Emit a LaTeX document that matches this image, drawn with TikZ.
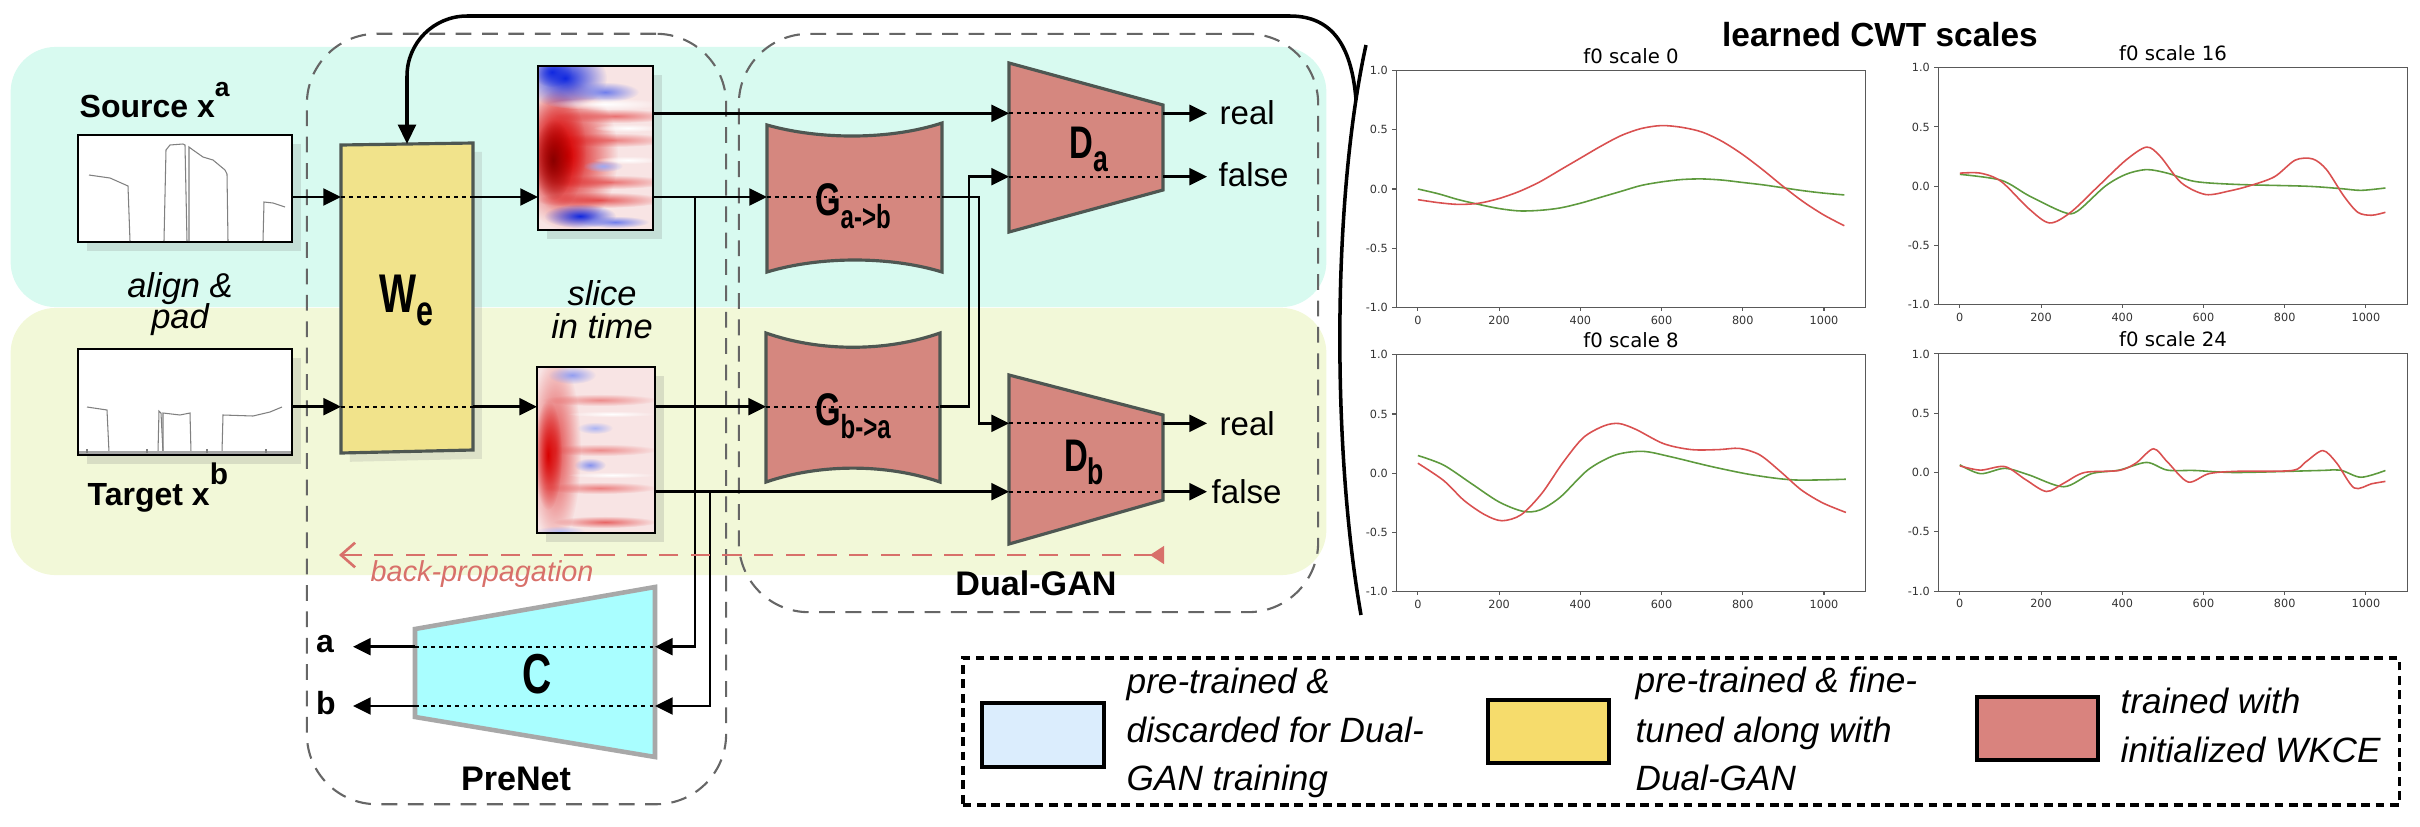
\documentclass[tikz,border=0pt]{standalone}
\usepackage{fontspec}
\setmainfont{Liberation Sans}
\newfontfamily\blockfont[FakeStretch=0.72]{Liberation Sans}
\newfontfamily\plotfont{DejaVu Sans}
\usetikzlibrary{arrows.meta,shadows,fadings}

\definecolor{bandcyan}{HTML}{D8FAF0}
\definecolor{bandyellow}{HTML}{F2F8D8}
\definecolor{weyellow}{HTML}{F1E38B}
\definecolor{ganred}{HTML}{D5877F}
\definecolor{edgegray}{HTML}{4E5752}
\definecolor{cfill}{HTML}{A9FEFF}
\definecolor{cedge}{HTML}{A8A8A8}
\definecolor{legblue}{HTML}{DBEDFD}
\definecolor{legyellow}{HTML}{F6DC6C}
\definecolor{legred}{HTML}{D9837E}
\definecolor{bpred}{HTML}{D8706A}
\definecolor{specpink}{HTML}{F8E4E4}
\definecolor{specred}{HTML}{D80000}
\definecolor{specdark}{HTML}{8A0000}
\definecolor{specblue}{HTML}{1028E0}
\definecolor{plotred}{HTML}{D95050}
\definecolor{plotgreen}{HTML}{5E9A3E}

\tikzfading[name=blobfade, inner color=transparent!0, outer color=transparent!100]

% soft blob of a scalogram
\newcommand{\specblob}[4]{\fill[#1,path fading=blobfade] #2 ellipse [x radius=#3, y radius=#4];}

% one panel of learned scales: name, origin x, origin y, title, red, green
\newcommand{\fzpanel}[6]{%
  \begin{scope}[shift={(#2,#3)},x=0.004064cm,y=1.185cm]
    \draw[axisline] (-53,-1) rectangle (1103,1);
    \foreach \tk in {0,200,...,1000}{
      \draw[axisline] (\tk,-1) -- (\tk,-1.03);
      \node[ticklab,anchor=north] (#1-x\tk) at (\tk,-1.05) {\tk};}
    \foreach \yv/\yl [count=\yi] in {1/1.0,0.5/0.5,0/0.0,-0.5/-0.5,-1/-1.0}{
      \draw[axisline] (-53,\yv) -- (-63,\yv);
      \node[ticklab,anchor=east] (#1-y\yi) at (-68,\yv) {\yl};}
    \node[plottitle,anchor=base] (#1-title) at (525,1.06) {#4};
    \draw[greencurve] plot[smooth] coordinates {#6};
    \draw[redcurve] plot[smooth] coordinates {#5};
  \end{scope}}

\begin{document}
\begin{tikzpicture}[x=0.01cm,y=-0.01cm,
  arr/.style={line width=0.7pt,-{Triangle[length=5pt,width=4.8pt]}},
  wire/.style={line width=0.7pt},
  loopline/.style={line width=1pt},
  port/.style={line width=0.5pt,dash pattern=on 1pt off 1.3pt},
  band/.style={inner sep=0pt,outer sep=0pt,rounded corners=0.45cm},
  grpbox/.style={draw=black!60,line width=0.6pt,dash pattern=on 4.5pt off 3pt,rounded corners=0.7cm,inner sep=0pt},
  inbox/.style={draw=black,fill=white,line width=0.6pt,inner sep=0pt,outer sep=0pt,
    drop shadow={shadow xshift=2.5pt,shadow yshift=-2.5pt,opacity=0.22}},
  specbox/.style={inbox,fill=specpink},
  weshape/.style={fill=weyellow,draw=edgegray,line width=0.9pt,
    drop shadow={shadow xshift=2.5pt,shadow yshift=-2.5pt,opacity=0.18}},
  ganshape/.style={fill=ganred,draw=edgegray,line width=0.9pt},
  cshape/.style={fill=cfill,draw=cedge,line width=1.3pt},
  contour/.style={draw=black!50,line width=0.3pt},
  lbl/.style={font=\bfseries\fontsize{9.1}{10}\selectfont,inner sep=0pt},
  note/.style={font=\itshape\fontsize{9.8}{10}\selectfont,inner sep=0pt,anchor=base},
  outlbl/.style={font=\fontsize{9.4}{10}\selectfont,inner sep=0pt,anchor=base west},
  blk/.style={font=\blockfont\bfseries,inner sep=0pt,anchor=base},
  grplbl/.style={font=\bfseries\fontsize{9.7}{10}\selectfont,inner sep=0pt,anchor=base},
  bparrow/.style={draw=bpred,line width=0.75pt,dash pattern=on 5.5pt off 3.5pt,
    {Triangle[reversed,length=4pt,width=5pt]}-{Straight Barb[length=4pt,width=7pt]}},
  bptext/.style={font=\itshape\fontsize{8.2}{9}\selectfont,text=bpred,inner sep=0pt,anchor=base west},
  legframe/.style={draw=black,line width=1.1pt,dash pattern=on 2.5pt off 1.6pt,inner sep=0pt},
  legbox/.style={draw=black,line width=1.1pt,inner sep=0pt,minimum width=1.21cm,minimum height=0.63cm},
  legtxt/.style={font=\itshape\fontsize{10}{12}\selectfont,inner sep=0pt,anchor=base west},
  axisline/.style={draw=black!65,line width=0.3pt},
  ticklab/.style={font=\plotfont\fontsize{3.2}{3.6}\selectfont,inner sep=0.5pt,text=black!80},
  plottitle/.style={font=\plotfont\fontsize{5.6}{6}\selectfont,inner sep=0pt},
  redcurve/.style={draw=plotred,line width=0.45pt},
  greencurve/.style={draw=plotgreen,line width=0.45pt}]
\useasboundingbox (0,0) rectangle (2420,827);

% domain bands
\node[band,fill=bandcyan,minimum width=13.15cm,minimum height=2.6cm] (band-a) at (668.5,177) {};
\node[band,fill=bandyellow,minimum width=13.15cm,minimum height=2.67cm] (band-b) at (668.5,441.5) {};

% groups
\node[grpbox,minimum width=4.19cm,minimum height=7.7cm] (prenet) at (516.5,419) {};
\node[grpbox,minimum width=5.79cm,minimum height=5.78cm] (dualgan) at (1028.5,323) {};
\node[grplbl] (prenet-lbl) at (516,790) {PreNet};
\node[grplbl] (dualgan-lbl) at (1036,595) {Dual-GAN};

% inputs
\node[lbl,anchor=base west] (src-lbl) at (79,117) {Source x\raisebox{5.7pt}{\fontsize{7.5}{8}\selectfont a}};
\node[inbox,minimum width=2.14cm,minimum height=1.07cm] (src) at (185,188.5) {};
\draw[contour] (89,175) -- (110,178) -- (128,186) -- (130,241);
\draw[contour] (164,241) -- (166,150) -- (170,145) -- (183,144) -- (185,145) -- (187,241);
\draw[contour] (189,241) -- (189,147) -- (193,150) -- (203,157) -- (213,160) -- (225,170) -- (227,174) -- (228,241);
\draw[contour] (263,241) -- (264,202) -- (273,203) -- (285,207);

\node[note] (align-lbl) at (180,297) {align \&};
\node[note] (pad-lbl) at (180,328) {pad};

\node[inbox,minimum width=2.14cm,minimum height=1.06cm] (tgt) at (185,402) {};
\draw[contour] (87,407) -- (107,410) -- (109,452);
\draw[contour] (158,452) -- (159,411) -- (161,413) -- (163,452);
\draw[contour] (163,452) -- (163,413) -- (180,415) -- (190,413) -- (191,452);
\draw[contour] (222,452) -- (223,415) -- (253,416) -- (270,412) -- (282,407);
\draw[black!35,line width=1pt] (79,452.5) -- (291,452.5);
\foreach \tx in {87,147,207,266} \draw[black!50,line width=0.4pt] (\tx,452.5) -- (\tx,449);
\node[lbl,anchor=base west] (tgt-lbl) at (87,505) {Target x\raisebox{5.7pt}{\fontsize{8.5}{9}\selectfont b}};

% encoder
\draw[weshape] (341,145) -- (473,143) -- (473,450) -- (341,453) -- cycle;
\coordinate (we-ia) at (341,197);
\coordinate (we-ib) at (341,406.7);
\coordinate (we-oa) at (473,197);
\coordinate (we-ob) at (473,406.7);
\coordinate (we-top) at (407,144);
\draw[port] (we-ia) -- (we-oa);
\draw[port] (we-ib) -- (we-ob);
\node[blk] (we-lbl) at (406,312) {\fontsize{15.5}{16}\selectfont W\raisebox{-3.7pt}{\fontsize{12}{12}\selectfont e}};

% scalograms
\node[specbox,minimum width=1.15cm,minimum height=1.64cm] (spa) at (595.5,148) {};
\begin{scope}
  \clip (538,66) rectangle (653,230);
  \specblob{specred!55}{(615,116)}{60}{7}
  \specblob{specred!50}{(612,140)}{60}{7}
  \specblob{specred!55}{(610,182)}{60}{7}
  \specblob{specred!65}{(600,200)}{65}{8}
  \specblob{specred}{(566,155)}{52}{75}
  \specblob{specred}{(556,150)}{30}{60}
  \specblob{specdark}{(553,160)}{20}{40}
  \specblob{specblue}{(565,78)}{42}{30}
  \specblob{specblue}{(552,72)}{20}{15}
  \specblob{specblue!60}{(605,92)}{34}{10}
  \specblob{white}{(605,104)}{58}{6}
  \specblob{white}{(628,128)}{35}{4}
  \specblob{white}{(628,160)}{35}{4}
  \specblob{specblue!40}{(603,166)}{20}{6}
  \specblob{specblue}{(580,216)}{36}{12}
  \specblob{specblue!60}{(615,222)}{34}{6}
\end{scope}
\draw[line width=0.6pt] (spa.south west) rectangle (spa.north east);

\node[specbox,minimum width=1.18cm,minimum height=1.66cm] (spb) at (596,450) {};
\begin{scope}
  \clip (537,367) rectangle (655,533);
  \specblob{specred!45}{(600,400)}{58}{6}
  \specblob{specred!45}{(600,450)}{58}{6}
  \specblob{specred!50}{(600,488)}{58}{6}
  \specblob{specred!60}{(605,522)}{52}{6}
  \specblob{specred!75}{(555,450)}{26}{95}
  \specblob{specred}{(548,455)}{14}{55}
  \specblob{specblue!45}{(572,375)}{24}{9}
  \specblob{specblue!35}{(595,428)}{18}{6}
  \specblob{specblue!50}{(590,465)}{16}{7}
  \specblob{specblue!30}{(560,531)}{25}{5}
  \specblob{white}{(612,414)}{45}{3}
  \specblob{white}{(612,475)}{45}{3}
\end{scope}
\draw[line width=0.6pt] (spb.south west) rectangle (spb.north east);

\node[note] (slice-lbl) at (602,305) {slice};
\node[note] (time-lbl) at (602,338) {in time};

% generators
\draw[ganshape] (767,125) .. controls (820,140) and (890,140) .. (942,123) -- (942,272)
  .. controls (890,256) and (820,256) .. (767,272) -- cycle;
\draw[ganshape] (766,333) .. controls (820,352) and (886,352) .. (940,333) -- (940,482)
  .. controls (886,463.5) and (820,463.5) .. (766,482) -- cycle;
\coordinate (gab-in) at (767,197);
\coordinate (gab-out) at (942,197);
\coordinate (gba-in) at (766,406.7);
\coordinate (gba-out) at (940,406.7);
\draw[port] (gab-in) -- (gab-out);
\draw[port] (gba-in) -- (gba-out);
\node[blk] (gab-lbl) at (853,215) {\fontsize{13}{13}\selectfont G\raisebox{-3.7pt}{\fontsize{9.5}{10}\selectfont a->b}};
\node[blk] (gba-lbl) at (853,425) {\fontsize{13}{13}\selectfont G\raisebox{-3.7pt}{\fontsize{9.5}{10}\selectfont b->a}};

% discriminators
\draw[ganshape] (1009,63) -- (1163,105) -- (1163,190) -- (1009,232) -- cycle;
\draw[ganshape] (1009,375) -- (1163,415) -- (1163,500) -- (1009,544) -- cycle;
\coordinate (da-r) at (1009,113.3);
\coordinate (da-f) at (1009,176.7);
\coordinate (da-or) at (1163,113.3);
\coordinate (da-of) at (1163,176.7);
\coordinate (db-r) at (1009,423.3);
\coordinate (db-f) at (1009,491.7);
\coordinate (db-or) at (1163,423.3);
\coordinate (db-of) at (1163,491.7);
\draw[port] (da-r) -- (da-or);
\draw[port] (da-f) -- (da-of);
\draw[port] (db-r) -- (db-or);
\draw[port] (db-f) -- (db-of);
\node[blk] (da-lbl) at (1089,158) {\fontsize{13}{13}\selectfont D\raisebox{-3.8pt}{\fontsize{10.5}{11}\selectfont a}};
\node[blk] (db-lbl) at (1084,471.7) {\fontsize{13}{13}\selectfont D\raisebox{-3.5pt}{\fontsize{10.5}{11}\selectfont b}};
\node[outlbl] (da-real) at (1219,124) {real};
\node[outlbl] (da-false) at (1218,186.7) {false};
\node[outlbl] (db-real) at (1219,435) {real};
\node[outlbl] (db-false) at (1211,503) {false};

% classifier
\draw[cshape] (415,629) -- (655,587) -- (655,757) -- (415,717) -- cycle;
\coordinate (c-a) at (655,646.7);
\coordinate (c-b) at (655,706);
\coordinate (c-oa) at (415,646.7);
\coordinate (c-ob) at (415,706);
\draw[port] (c-oa) -- (c-a);
\draw[port] (c-ob) -- (c-b);
\node[blk] (c-lbl) at (537,693) {\fontsize{16}{16}\selectfont C};
\node[lbl,anchor=base] (out-a) at (325,652.7) {a};
\node[lbl,anchor=base] (out-b) at (326,714) {b};

% connections
\coordinate (tap-a) at (695,197);
\coordinate (tap-b) at (710,491.7);
\draw[arr] (src.east |- we-ia) -- (we-ia);
\draw[arr] (tgt.east |- we-ib) -- (we-ib);
\draw[arr] (we-oa) -- (spa.west |- we-oa);
\draw[arr] (we-ob) -- (spb.west |- we-ob);
\draw[arr] (spa.east |- da-r) -- (da-r);
\draw[arr] (spa.east |- gab-in) -- (gab-in);
\draw[arr] (tap-a) |- (c-a);
\draw[arr] (spb.east |- gba-in) -- (gba-in);
\draw[arr] (spb.east |- db-f) -- (db-f);
\draw[arr] (tap-b) |- (c-b);
\draw[arr] (gab-out) -- ++(37,0) |- (db-r);
\draw[arr] (gba-out) -- ++(29,0) |- (da-f);
\draw[arr] (da-or) -- ++(44,0);
\draw[arr] (da-of) -- ++(44,0);
\draw[arr] (db-or) -- ++(44,0);
\draw[arr] (db-of) -- ++(44,0);
\draw[arr] (c-oa) -- ++(-62,0);
\draw[arr] (c-ob) -- ++(-62,0);

% weights fed back from the learned scales
\draw[loopline,rounded corners=0.6cm,-{Triangle[length=5.5pt,width=5pt]}] (1290,16) -- (we-top |- 0,16) -- (we-top);
\draw[loopline] (1290,16) .. controls (1335,16) and (1352,50) .. (1356,100);
\draw[loopline] (1366,45) .. controls (1332,200) and (1332,450) .. (1361,615);

% back-propagation
\coordinate (bp-s) at (1164,555);
\coordinate (bp-e) at (339,555);
\draw[bparrow] (bp-s) -- (bp-e);
\node[bptext] (bp-lbl) at (370,581.7) {back-propagation};

% learned scales
\node[font=\bfseries\fontsize{9.5}{10}\selectfont,inner sep=0pt,anchor=base] (cwt-lbl) at (1880,46.7) {learned CWT scales};
\fzpanel{pa}{1417.9}{189}{f0 scale 0}
  {(0,-0.09) (50,-0.115) (100,-0.13) (150,-0.12) (200,-0.08) (250,-0.02) (300,0.06) (350,0.16) (400,0.26) (450,0.36) (500,0.45) (550,0.51) (600,0.535) (650,0.52) (700,0.48) (750,0.40) (800,0.29) (850,0.16) (900,0.02) (950,-0.11) (1000,-0.22) (1050,-0.31)}
  {(0,0) (50,-0.04) (100,-0.09) (150,-0.13) (200,-0.165) (250,-0.185) (300,-0.18) (350,-0.16) (400,-0.12) (450,-0.07) (500,-0.02) (550,0.03) (600,0.06) (650,0.08) (700,0.085) (750,0.075) (800,0.055) (850,0.035) (900,0.01) (950,-0.015) (1000,-0.035) (1050,-0.05)}
\fzpanel{pb}{1959.8}{186.2}{f0 scale 16}
  {(0,0.11) (51,0.11) (102,0.04) (170,-0.19) (221,-0.31) (273,-0.22) (341,0) (409,0.22) (460,0.33) (494,0.25) (545,0.03) (605,-0.07) (664,-0.04) (715,0.005) (775,0.08) (826,0.22) (869,0.23) (903,0.14) (945,-0.08) (980,-0.22) (1014,-0.245) (1048,-0.22)}
  {(0,0.1) (102,0.05) (170,-0.08) (256,-0.22) (290,-0.21) (358,0) (409,0.1) (460,0.14) (511,0.11) (579,0.04) (682,0.015) (852,0) (937,-0.02) (988,-0.035) (1048,-0.015)}
\fzpanel{pc}{1417.9}{473.3}{f0 scale 8}
  {(0,0.085) (63,-0.06) (114,-0.23) (165,-0.35) (207,-0.40) (254,-0.35) (305,-0.17) (356,0.085) (407,0.30) (458,0.40) (495,0.42) (537,0.37) (605,0.25) (673,0.20) (741,0.20) (792,0.21) (842,0.155) (893,0.014) (944,-0.14) (997,-0.25) (1054,-0.33)}
  {(0,0.15) (63,0.07) (131,-0.085) (199,-0.24) (258,-0.32) (300,-0.31) (351,-0.2) (419,0.03) (487,0.155) (554,0.185) (622,0.14) (724,0.056) (825,-0.014) (927,-0.056) (1054,-0.05)}
\fzpanel{pd}{1959.8}{472.5}{f0 scale 24}
  {(0,0.056) (51,0.02) (111,0.05) (162,-0.06) (213,-0.16) (256,-0.09) (307,0) (392,0.017) (434,0.08) (477,0.2) (511,0.09) (562,-0.08) (613,-0.01) (681,0.01) (818,0.017) (852,0.09) (894,0.185) (928,0.08) (971,-0.13) (1014,-0.095) (1048,-0.075)}
  {(0,0.065) (51,-0.01) (111,0.035) (170,-0.02) (256,-0.12) (324,-0.01) (392,0.02) (460,0.085) (511,0.02) (579,0.017) (681,0) (886,0.017) (937,0.02) (988,-0.04) (1048,0.017)}

% legend
\node[legframe,minimum width=14.36cm,minimum height=1.47cm] (legend) at (1681,731.5) {};
\node[legbox,fill=legblue,minimum width=1.22cm,minimum height=0.64cm] (leg-pre) at (1043,735) {};
\node[legtxt] (leg-pre-1) at (1126,693) {pre-trained \&};
\node[legtxt] (leg-pre-2) at (1126,742) {discarded for Dual-};
\node[legtxt] (leg-pre-3) at (1126,790) {GAN training};
\node[legbox,fill=legyellow] (leg-fine) at (1548.5,731.5) {};
\node[legtxt] (leg-fine-1) at (1635,692) {pre-trained \& fine-};
\node[legtxt] (leg-fine-2) at (1635,742) {tuned along with};
\node[legtxt] (leg-fine-3) at (1635,790) {Dual-GAN};
\node[legbox,fill=legred] (leg-wkce) at (2037.5,728.5) {};
\node[legtxt] (leg-wkce-1) at (2120,713) {trained with};
\node[legtxt] (leg-wkce-2) at (2120,762) {initialized WKCE};
\end{tikzpicture}
\end{document}
